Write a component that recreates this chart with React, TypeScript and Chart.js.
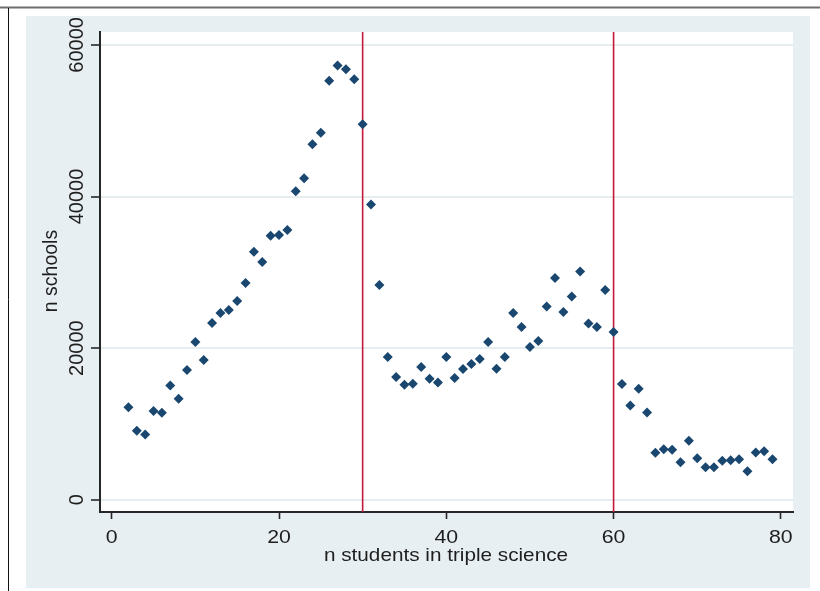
import React, { useEffect, useRef } from "react";
import { Chart, registerables } from "chart.js";

Chart.register(...registerables);

// ---- data ----
const studentCounts = [
  2, 3, 4, 5, 6, 7, 8, 9, 10, 11, 12, 13, 14, 15, 16, 17, 18, 19, 20, 21,
  22, 23, 24, 25, 26, 27, 28, 29, 30, 31, 32, 33, 34, 35, 36, 37, 38, 39, 40,
  41, 42, 43, 44, 45, 46, 47, 48, 49, 50, 51, 52, 53, 54, 55, 56, 57, 58, 59,
  60, 61, 62, 63, 64, 65, 66, 67, 68, 69, 70, 71, 72, 73, 74, 75, 76, 77, 78, 79,
];
const schoolCounts = [
  12220, 9120, 8610, 11720, 11490, 15060, 13340, 17110, 20810, 18430,
  23320, 24640, 25030, 26220, 28600, 32700, 31370, 34810, 34940, 35600,
  40690, 42400, 46900, 48420, 55280, 57270, 56800, 55480, 49540, 38940,
  28340, 18820, 16180, 15190, 15320, 17500, 15980, 15460, 18820, 16050,
  17240, 17900, 18560, 20810, 17300, 18820, 24640, 22790, 20150, 20940,
  25500, 29260, 24770, 26820, 30120, 23250, 22790, 27680, 22130, 15260,
  12440, 14660, 11520, 6210, 6670, 6600, 4950, 7790, 5480, 4290,
  4290, 5150, 5220, 5350, 3770, 6240, 6410, 5350,
];
const cutoffLines = [30, 60];
const xTickValues = [0, 20, 40, 60, 80];
const yTickValues = [0, 20000, 40000, 60000];
const xTitle = "n students in triple science";
const yTitle = "n schools";

const X_MIN = -1.4;
const X_MAX = 81.45;
const Y_MIN = -1610;
const Y_MAX = 61700;

const FONT = "'Liberation Sans', Arial, sans-serif";
const MARKER = "#1a476f";
const RED = "#c4173c";
const PANEL = "#e8eff2";
const GRID = "#e5edf0";
const AXIS = "#262626";
const TEXT = "#1e1e1e";

function drawStretched(ctx: any, text: string, x: number, y: number, sx: number) {
  ctx.save();
  ctx.translate(x, y);
  ctx.scale(sx, 1);
  ctx.fillText(text, 0, 0);
  ctx.restore();
}

const decorPlugin = {
  id: "decor",
  beforeDraw(chart: any) {
    const { ctx, chartArea, width, height } = chart;
    ctx.save();
    ctx.fillStyle = "#ffffff";
    ctx.fillRect(0, 0, width, height);
    ctx.strokeStyle = "#6e6e6e";
    ctx.lineWidth = 2;
    ctx.beginPath();
    ctx.moveTo(0, 7.5);
    ctx.lineTo(width, 7.5);
    ctx.stroke();
    ctx.strokeStyle = "#111111";
    ctx.lineWidth = 1;
    ctx.beginPath();
    ctx.moveTo(8.5, 8);
    ctx.lineTo(8.5, height);
    ctx.stroke();
    ctx.fillStyle = PANEL;
    ctx.fillRect(26, 16, 784, 572);
    ctx.fillStyle = "#ffffff";
    ctx.fillRect(
      chartArea.left,
      chartArea.top,
      chartArea.right - chartArea.left,
      chartArea.bottom - chartArea.top
    );
    ctx.restore();
  },
  afterDraw(chart: any) {
    const { ctx, chartArea } = chart;
    const yScale = chart.scales.y;
    const xScale = chart.scales.x;
    ctx.save();
    ctx.fillStyle = TEXT;
    ctx.textAlign = "center";
    ctx.textBaseline = "alphabetic";
    // rotated y tick labels
    ctx.font = `20px ${FONT}`;
    for (const v of yTickValues) {
      const py = yScale.getPixelForValue(v);
      ctx.save();
      ctx.translate(83, py);
      ctx.rotate(-Math.PI / 2);
      ctx.fillText(String(v), 0, 0);
      ctx.restore();
    }
    // y title
    ctx.font = `19.5px ${FONT}`;
    const cy = (chartArea.top + chartArea.bottom) / 2;
    ctx.save();
    ctx.translate(57, cy - 1);
    ctx.rotate(-Math.PI / 2);
    ctx.fillText(yTitle, 0, 0);
    ctx.restore();
    // x tick labels
    ctx.font = `19px ${FONT}`;
    for (const v of xTickValues) {
      const px = xScale.getPixelForValue(v);
      drawStretched(ctx, String(v), px, 542.7, 1.12);
    }
    // x title
    const cx = (chartArea.left + chartArea.right) / 2;
    drawStretched(ctx, xTitle, cx - 0.5, 560.7, 1.09);
    ctx.restore();
  },
};

export default function App() {
  const canvasRef = useRef<HTMLCanvasElement | null>(null);

  useEffect(() => {
    document.body.style.margin = "0";
    const canvas = canvasRef.current;
    if (!canvas) return;

    const points = studentCounts.map((x, i) => ({ x, y: schoolCounts[i] }));
    const lineSets = cutoffLines.map((c) => ({
      type: "line" as const,
      data: [
        { x: c, y: Y_MIN },
        { x: c, y: Y_MAX },
      ],
      borderColor: RED,
      borderWidth: 1.6,
      pointRadius: 0,
      fill: false,
      order: 2,
    }));

    const chart = new Chart(canvas, {
      type: "scatter",
      data: {
        datasets: [
          {
            type: "scatter",
            data: points,
            pointStyle: "rectRot",
            pointRadius: 5,
            pointBorderWidth: 0,
            backgroundColor: MARKER,
            borderColor: MARKER,
            order: 0,
          } as any,
          ...(lineSets as any[]),
        ],
      },
      options: {
        animation: false,
        responsive: false,
        maintainAspectRatio: false,
        devicePixelRatio: 1,
        layout: { padding: { left: 0, top: 32, right: 27, bottom: 0 } },
        plugins: {
          legend: { display: false },
          tooltip: { enabled: false },
          title: { display: false },
        },
        scales: {
          x: {
            type: "linear",
            min: X_MIN,
            max: X_MAX,
            afterBuildTicks: (s: any) => {
              s.ticks = xTickValues.map((v) => ({ value: v }));
            },
            afterFit: (s: any) => {
              s.height = 79;
            },
            ticks: { display: false },
            grid: {
              drawOnChartArea: false,
              drawTicks: true,
              tickLength: 7,
              tickColor: AXIS,
              tickWidth: 1.6,
            },
            border: { display: true, color: AXIS, width: 2 },
          },
          y: {
            type: "linear",
            min: Y_MIN,
            max: Y_MAX,
            afterBuildTicks: (s: any) => {
              s.ticks = yTickValues.map((v) => ({ value: v }));
            },
            afterFit: (s: any) => {
              s.width = 100;
            },
            ticks: { display: false },
            grid: {
              drawOnChartArea: true,
              color: GRID,
              lineWidth: 2,
              drawTicks: true,
              tickLength: 9,
              tickColor: AXIS,
              tickWidth: 1.6,
            },
            border: { display: true, color: AXIS, width: 2 },
          },
        },
      },
      plugins: [decorPlugin],
    });

    return () => chart.destroy();
  }, []);

  return (
    <div style={{ position: "absolute", left: 0, top: 0, width: 820, height: 591 }}>
      <canvas ref={canvasRef} width={820} height={591} style={{ width: 820, height: 591, display: "block" }} />
    </div>
  );
}
